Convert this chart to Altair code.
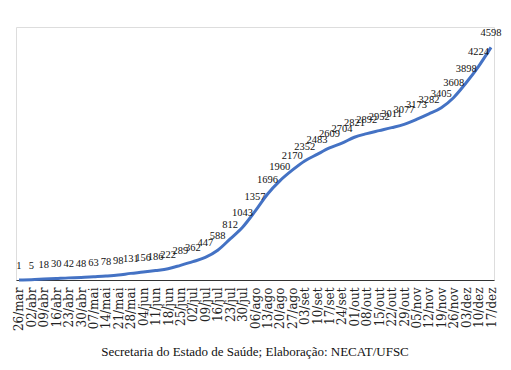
import altair as alt
import pandas as pd

dates = ["26/mar", "02/abr", "09/abr", "16/abr", "23/abr", "30/abr", "07/mai", "14/mai",
         "21/mai", "28/mai", "04/jun", "11/jun", "18/jun", "25/jun", "02/jul", "09/jul",
         "16/jul", "23/jul", "30/jul", "06/ago", "13/ago", "20/ago", "27/ago", "03/set",
         "10/set", "17/set", "24/set", "01/out", "08/out", "15/out", "22/out", "29/out",
         "05/nov", "12/nov", "19/nov", "26/nov", "03/dez", "10/dez", "17/dez"]
values = [1, 5, 18, 30, 42, 48, 63, 78, 98, 131, 156, 186, 222, 289, 362, 447, 588, 812,
          1043, 1357, 1696, 1960, 2170, 2352, 2483, 2609, 2704, 2821, 2892, 2952, 3011,
          3077, 3173, 3282, 3405, 3608, 3898, 4224, 4598]
caption = "Secretaria do Estado de Saúde; Elaboração: NECAT/UFSC"

df = pd.DataFrame({"data": dates, "obitos": values})

SERIF = "'Liberation Serif', 'Times New Roman', serif"
DSERIF = "'DejaVu Serif', serif"

x = alt.X("data:N", sort=dates, scale=alt.Scale(type="point", padding=0.24),
          axis=alt.Axis(title=None, labelAngle=270, labelFont=DSERIF, labelFontSize=12,
                        labelColor="#222222", ticks=False, domainColor="#333333",
                        domainWidth=1, labelPadding=7, grid=False))
y = alt.Y("obitos:Q", scale=alt.Scale(domain=[0, 5000], nice=False), axis=None)

line = alt.Chart(df).mark_line(color="#4472C4", strokeWidth=3, interpolate="monotone").encode(x=x, y=y)
labels = alt.Chart(df).mark_text(font=SERIF, fontSize=10.5, color="#111111",
                                 baseline="bottom", dy=-9).encode(x=x, y=y, text="obitos:Q")

chart = (line + labels).properties(
    width=478, height=253,
    autosize=alt.AutoSizeParams(type="none"),
    padding={"left": 8, "top": 19, "right": 9, "bottom": 80},
    title=alt.TitleParams(caption, orient="bottom", anchor="middle", font=SERIF,
                          fontSize=13, fontWeight="normal", color="#111111", offset=15),
).configure_view(stroke=None).configure(background="white")

chart.save("out.html", embed_options={"renderer": "svg", "actions": False})
